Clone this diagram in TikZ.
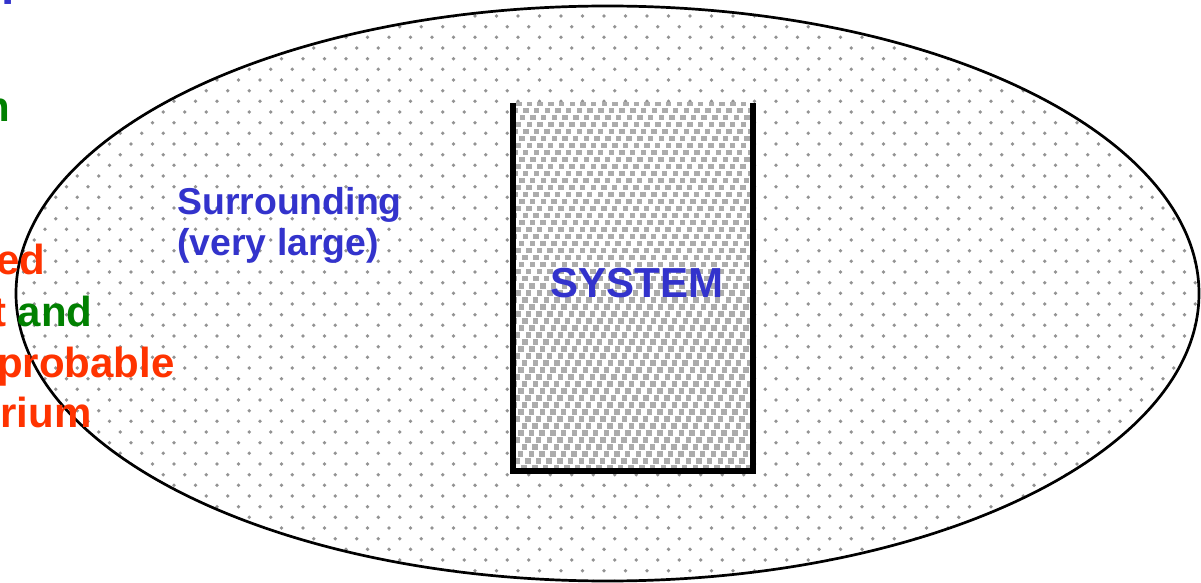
\documentclass[tikz,border=0pt]{standalone}
\usepackage{fontspec}
\setmainfont{Liberation Sans}
\definecolor{sysblue}{RGB}{51,51,204}
\definecolor{hotred}{RGB}{255,51,0}
\definecolor{leafgreen}{RGB}{0,128,0}
\newcommand\SideText[1]{\fontsize{21}{25}\selectfont\bfseries #1}
\newcommand\DrawDot[2]{
  \fill[gray!85] (#1,#2) circle [radius=0.95pt];
}
\newcommand\DrawGrain[2]{
  \fill[gray!65] (#1,#2) rectangle ++(5.5,5.5);
}

\begin{document}
\begin{tikzpicture}[x=0.5pt,y=-0.5pt]
\useasboundingbox (0,0) rectangle (1201,583);
\clip (0,0) rectangle (1201,583);
\begin{scope}
  \clip (607.5,293.5) ellipse [x radius=591.5, y radius=287.5];
  \foreach \k in {0,...,54}{
    \pgfmathsetmacro\yy{5.33+10.667*\k}
    \pgfmathsetmacro\xo{mod(\k,2)==1 ? 2 : 12.75}
    \foreach \n in {0,...,56}{
      \DrawDot{\xo+21.5*\n}{\yy}
    }
  }
\end{scope}
\draw[line width=1.35pt] (607.5,293.5) ellipse [x radius=591.5, y radius=287.5];
\begin{scope}
  \clip (516,103) rectangle (750,468);
  \fill[white] (516,103) rectangle (750,468);
  \foreach \j in {0,...,53}{
    \pgfmathsetmacro\yy{101+7*\j}
    \pgfmathsetmacro\xo{516-mod(3.6*\j,10.7)}
    \foreach \n in {0,...,23}{
      \DrawGrain{\xo+10.7*\n}{\yy}
    }
  }
\end{scope}
\draw[line width=3pt,miter limit=2] (513,103) -- (513,471) -- (752.5,471) -- (752.5,103);
\node[anchor=base, inner sep=0, text=sysblue, font=\fontsize{21}{25}\selectfont\bfseries] (system) at (637,298) {SYSTEM};
\node[anchor=base west, inner sep=0, text=sysblue, font=\fontsize{18.7}{20.5}\selectfont\bfseries] (surr) at (177,215) {Surrounding};
\node[anchor=base west, inner sep=0, text=sysblue, font=\fontsize{18.7}{20.5}\selectfont\bfseries] (large) at (177,256) {(very large)};
\node[anchor=base west, inner sep=0, text=sysblue, font=\fontsize{24}{28}\selectfont\bfseries] (top) at (1.6,-5.5) {p};
\node[anchor=base east, inner sep=0, text=leafgreen] (green) at (10.5,122) {\SideText{n}};
\node[anchor=base east, inner sep=0, text=hotred] (ed) at (46,275) {\SideText{ed}};
\node[anchor=base east, inner sep=0, text=hotred] (tand) at (93,327) {\SideText{t \textcolor{leafgreen}{and}}};
\node[anchor=base east, inner sep=0, text=hotred] (prob) at (175,377) {\SideText{probable}};
\node[anchor=base east, inner sep=0, text=hotred] (rium) at (92,427) {\SideText{rium}};
\end{tikzpicture}
\end{document}
